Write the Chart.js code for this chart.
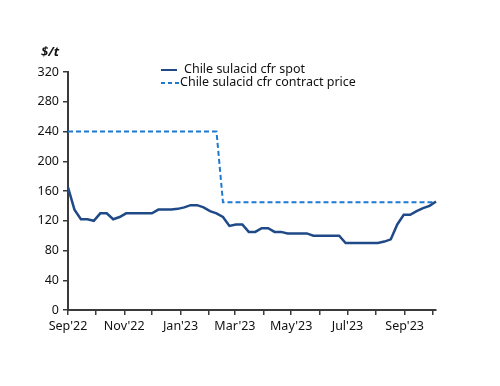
<!DOCTYPE html>
<html>
<head>
<meta charset="utf-8">
<script src="https://cdn.jsdelivr.net/npm/chart.js@4/dist/chart.umd.min.js"></script>
<style>
    html, body { margin: 0; padding: 0; background: #fff; }
    #wrap { position: relative; width: 500px; height: 386px; }
    #unit {
        position: absolute; left: 41px; top: 42px;
        font: italic bold 13px "Noto Sans", sans-serif; color: #111;
    }
    .leg {
        position: absolute; left: 161px;
        font: 12.5px "Noto Sans", sans-serif; color: #111; white-space: nowrap;
        line-height: 14px;
    }
    .leg span { display: inline-block; vertical-align: middle; }
    #leg2 span {
        width: 18px; height: 2px; margin-right: 1px;
        background: repeating-linear-gradient(90deg, #1f78cf 0 4px, transparent 4px 7px);
    }
</style>
</head>
<body>
<div id="wrap">
    <canvas id="chart" width="500" height="386"></canvas>
    <div id="unit">$/t</div>
    <div class="leg" id="leg1" style="top:62px"><span style="width:16px;border-top:2.5px solid #1f4a87;margin-right:7px"></span>Chile sulacid cfr spot</div>
    <div class="leg" id="leg2" style="top:75px"><span></span>Chile sulacid cfr contract price</div>
</div>
<script>
// Weekly observations, day offset from 1 Sep 2022
const weekDays = [];
for (let i = 0; i < 58; i++) weekDays.push(i * 7);

const spotPrice = [165, 135, 122, 122, 120, 130, 130, 122, 125, 130,
    130, 130, 130, 130, 135, 135, 135, 136, 138, 141,
    141, 138, 133, 130, 125, 113, 115, 115, 105, 105,
    110, 110, 105, 105, 103, 103, 103, 103, 100, 100,
    100, 100, 100, 90, 90, 90, 90, 90, 90, 92,
    95, 115, 128, 128, 133, 137, 140, 146];

const contractPrice = [240, 240, 240, 240, 240, 240, 240, 240, 240, 240,
    240, 240, 240, 240, 240, 240, 240, 240, 240, 240,
    240, 240, 240, 240, 145, 145, 145, 145, 145, 145,
    145, 145, 145, 145, 145, 145, 145, 145, 145, 145,
    145, 145, 145, 145, 145, 145, 145, 145, 145, 145,
    145, 145, 145, 145, 145, 145, 145, 145];

// month starts (days from 1 Sep 2022) and their labels
const monthStarts = [0, 30, 61, 91, 122, 153, 181, 212, 242, 273, 303, 334, 365, 395];
const monthLabels = ["Sep'22", "", "Nov'22", "", "Jan'23", "", "Mar'23", "", "May'23", "", "Jul'23", "", "Sep'23", ""];

const yTicks = [0, 40, 80, 120, 160, 200, 240, 280, 320];

const axisColor = '#3a3a3a';
const tickFont = { family: 'Noto Sans', size: 12.5 };

const ctx = document.getElementById('chart').getContext('2d');
new Chart(ctx, {
    type: 'line',
    data: {
        datasets: [
            {
                label: 'Chile sulacid cfr spot',
                data: weekDays.map((d, i) => ({ x: d, y: spotPrice[i] })),
                borderColor: '#1f4a87',
                borderWidth: 2.5,
                pointRadius: 0,
                tension: 0,
                clip: false
            },
            {
                label: 'Chile sulacid cfr contract price',
                data: weekDays.map((d, i) => ({ x: d, y: contractPrice[i] })),
                borderColor: '#1f78cf',
                borderWidth: 2,
                borderDash: [5, 3],
                pointRadius: 0,
                tension: 0,
                clip: false
            }
        ]
    },
    options: {
        responsive: false,
        animation: false,
        layout: { padding: { top: 72, right: 64, left: 0, bottom: 0 } },
        plugins: {
            legend: { display: false },
            tooltip: { enabled: false }
        },
        scales: {
            x: {
                type: 'linear',
                min: 0,
                max: 399,
                afterBuildTicks: function(scale) {
                    scale.ticks = monthStarts.map(v => ({ value: v }));
                },
                afterFit: function(scale) { scale.height = 76; },
                ticks: {
                    autoSkip: false,
                    maxRotation: 0,
                    color: '#111',
                    font: tickFont,
                    padding: 4,
                    callback: function(value) {
                        const i = monthStarts.indexOf(value);
                        return i >= 0 ? monthLabels[i] : '';
                    }
                },
                grid: { drawOnChartArea: false, tickLength: 5, color: axisColor, lineWidth: 1.5 },
                border: { color: axisColor, width: 2 }
            },
            y: {
                min: 0,
                max: 320,
                afterBuildTicks: function(scale) {
                    scale.ticks = yTicks.map(v => ({ value: v }));
                },
                afterFit: function(scale) { scale.width = 68; },
                ticks: {
                    color: '#111',
                    font: tickFont,
                    padding: 4
                },
                grid: { drawOnChartArea: false, tickLength: 5, color: axisColor, lineWidth: 1.5 },
                border: { color: axisColor, width: 2 }
            }
        }
    }
});
</script>
</body>
</html>
